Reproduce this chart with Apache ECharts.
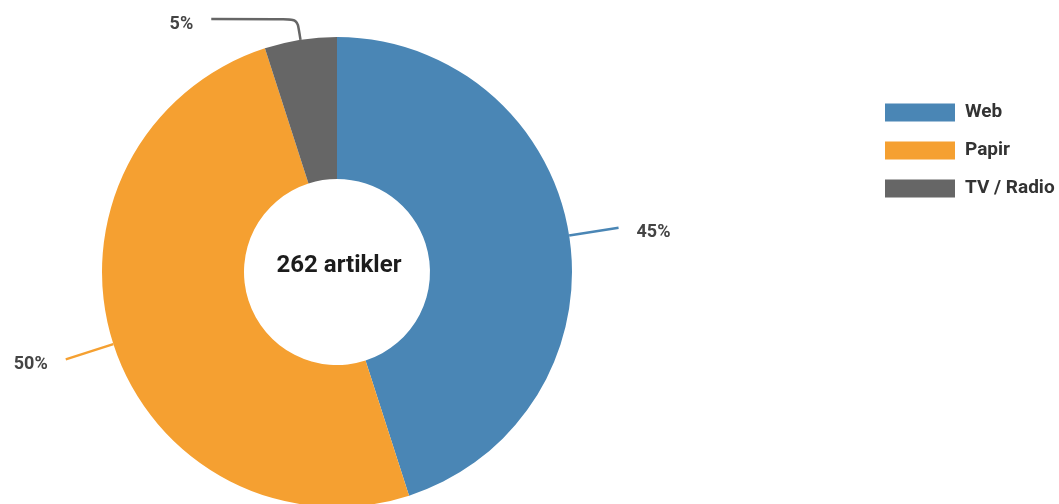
<!DOCTYPE html>
<html>
<head>
<meta charset="utf-8">
<script src="https://cdn.jsdelivr.net/npm/echarts@6/dist/echarts.min.js"></script>
<style>
html,body{margin:0;padding:0;background:#fff;}
#chart{width:1059px;height:504px;}
</style>
</head>
<body>
<div id="chart"></div>
<script>
const categories = ['Web', 'Papir', 'TV / Radio'];
const counts = [118, 131, 13];
const colors = ['#4a86b5', '#f5a031', '#666666'];
const centerText = '262 artikler';
const lineLengths = [[50, 0], [50, 0], [21, 86]];

const chart = echarts.init(document.getElementById('chart'));
chart.setOption({
  animation: false,
  color: colors,
  legend: {
    orient: 'vertical',
    left: 885,
    top: 103,
    padding: 0,
    itemWidth: 70,
    itemHeight: 18,
    itemGap: 19,
    icon: 'rect',
    itemStyle: {borderWidth: 0},
    textStyle: {fontFamily: 'Roboto', fontSize: 19, fontWeight: 'bold', color: '#333', lineHeight: 18, padding: [0, 0, 0, 5]},
    data: categories
  },
  graphic: [{
    type: 'text',
    x: 339,
    y: 266,
    style: {
      text: centerText,
      textAlign: 'center',
      textVerticalAlign: 'middle',
      font: 'bold 24px Roboto',
      fill: '#1c1c1c'
    }
  }],
  series: [{
    type: 'pie',
    center: [337, 272],
    radius: [93, 235],
    startAngle: 90,
    clockwise: true,
    avoidLabelOverlap: false,
    percentPrecision: 0,
    label: {
      show: true,
      position: 'outside',
      formatter: '{d}%',
      fontFamily: 'Roboto',
      fontSize: 18,
      fontWeight: 'bold',
      color: '#444',
      distanceToLabelLine: 18
    },
    labelLayout: {dy: 5},
    labelLine: {show: true, smooth: 0.2, lineStyle: {width: 2.5}},
    emphasis: {disabled: true},
    data: categories.map((c, i) => ({
      name: c,
      value: counts[i],
      labelLine: {length: lineLengths[i][0], length2: lineLengths[i][1]}
    }))
  }]
});
</script>
</body>
</html>
